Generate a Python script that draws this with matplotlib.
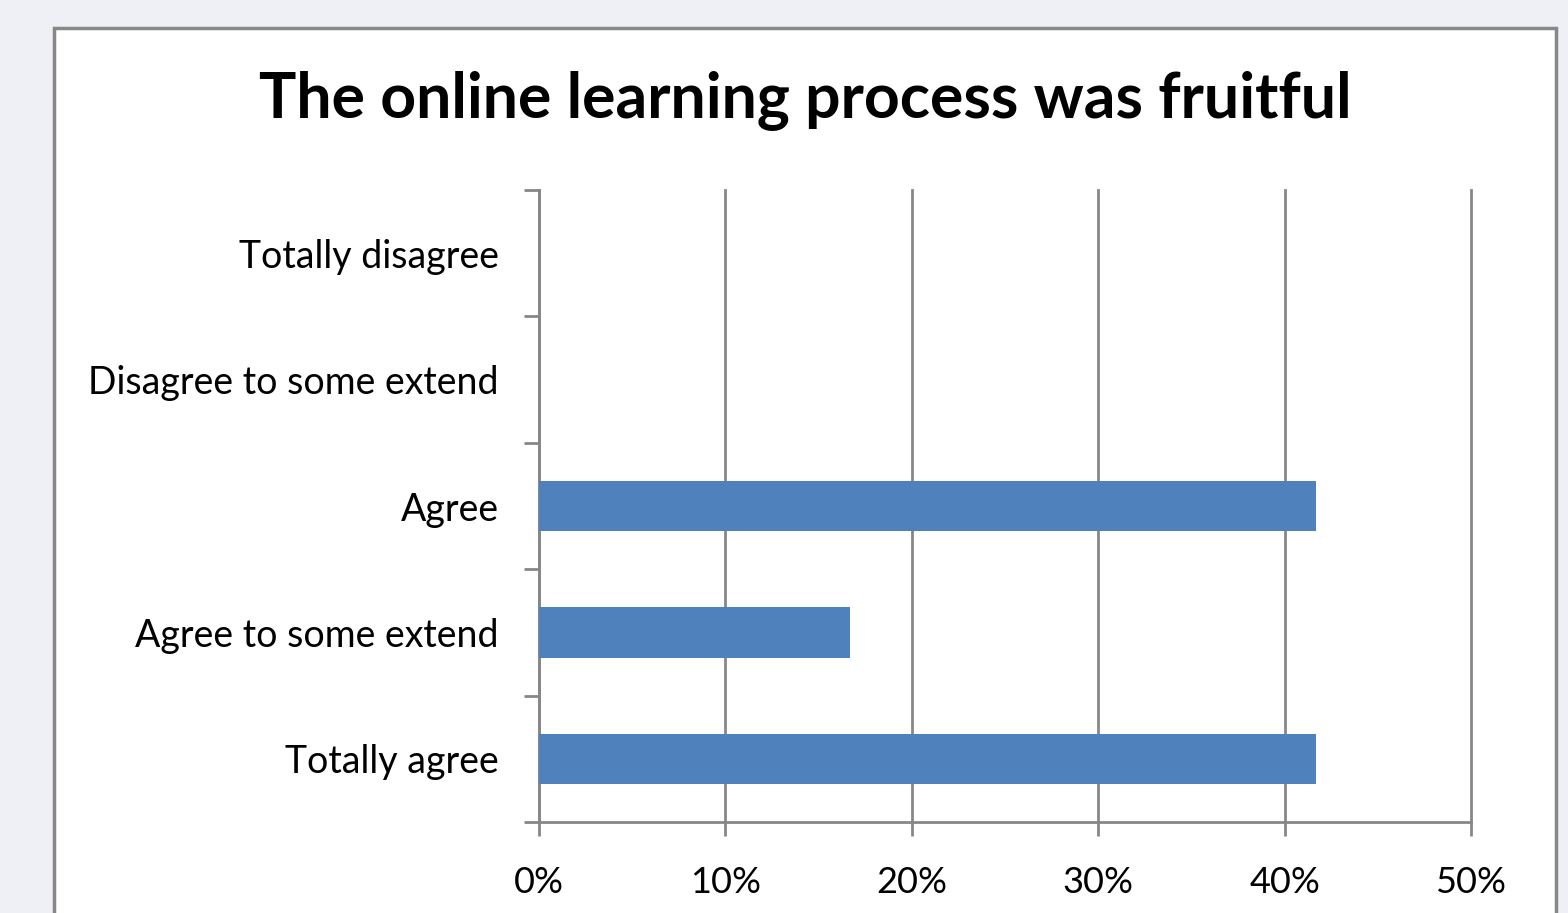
import matplotlib.pyplot as plt
from matplotlib.patches import Rectangle
from matplotlib.ticker import FuncFormatter, FixedLocator

categories = ['Totally agree', 'Agree to some extend', 'Agree',
              'Disagree to some extend', 'Totally disagree']
values = [41.67, 16.67, 41.67, 0, 0]
xticks = [0, 10, 20, 30, 40, 50]

plt.rcParams['font.family'] = ['Lato', 'DejaVu Sans']

W, H = 1568, 913
fig = plt.figure(figsize=(W / 100, H / 100), dpi=100)
fig.patch.set_facecolor('#eef0f5')

# white chart area with grey frame (drawn under the axes)
fig.patches.append(Rectangle((54 / W, -0.05), (1556 - 54) / W, 1.05 - 28 / H,
                             transform=fig.transFigure, facecolor='white',
                             edgecolor='#878787', linewidth=2.5, zorder=-5))

fig.text(805 / W, 1 - 100 / H, 'The online learning process was fruitful',
         ha='center', va='center', fontsize=45, fontweight='bold')

ax = fig.add_axes([539 / W, 1 - 822 / H, 932 / W, 632 / H])
ax.set_facecolor('none')

ypos = list(range(len(categories)))
ax.barh(ypos, values, height=0.4, color='#4f81bd', linewidth=0, zorder=3)

ax.set_xlim(0, 50)
ax.set_ylim(-0.5, len(categories) - 0.5)
ax.set_xticks(xticks)
ax.xaxis.set_major_formatter(FuncFormatter(lambda x, _: '{:.0f}%'.format(x)))
ax.grid(axis='x', color='#878787', linewidth=2, zorder=1)
for gl in ax.get_xgridlines():
    gl.set_clip_on(False)

ax.yaxis.set_major_locator(FixedLocator([y - 0.5 for y in range(len(categories) + 1)]))
ax.set_yticklabels([])
ax.yaxis.set_minor_locator(FixedLocator(ypos))
ax.set_yticks(ypos, categories, minor=True)
ax.tick_params(axis='y', which='minor', length=0, pad=29, labelsize=27)
ax.tick_params(axis='y', which='major', length=11, width=2, color='#878787')
ax.tick_params(axis='x', length=10, width=2, color='#878787', pad=22, labelsize=26)

for s in ['top', 'right']:
    ax.spines[s].set_visible(False)
for s in ['left', 'bottom']:
    ax.spines[s].set_color('#878787')
    ax.spines[s].set_linewidth(2)

fig.savefig('out.png', dpi=100, facecolor=fig.get_facecolor())
